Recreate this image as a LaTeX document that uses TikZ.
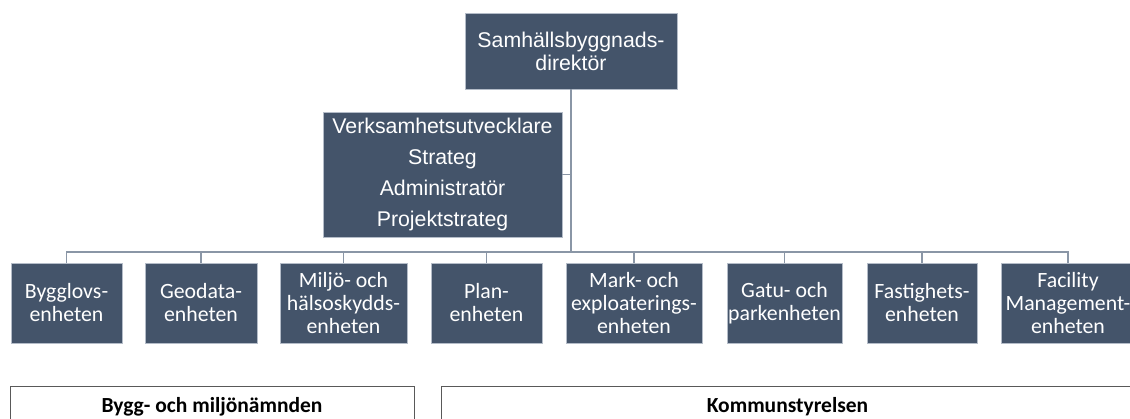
\documentclass[tikz,border=0pt]{standalone}
\usepackage{fontspec}
\setmainfont{Liberation Sans}
\newfontfamily\calib{Carlito}
\definecolor{boxfill}{HTML}{44546A}
\definecolor{boxedge}{HTML}{B4BCC8}
\definecolor{connc}{HTML}{8A96A6}
\definecolor{frame}{HTML}{595959}
\begin{document}
\begin{tikzpicture}[x=1pt,y=-1pt,
  bluebox/.style={draw=boxedge, line width=0.8pt, fill=boxfill, text=white, align=center, inner sep=0pt, minimum height=#1},
  unitbox/.style={bluebox=80pt, font=\calib\fontsize{21.8}{23}\selectfont},
  conn/.style={draw=connc, line width=1.3pt},
  framebox/.style={draw=frame, line width=1pt},
  framelabel/.style={font=\calib\bfseries\fontsize{21.5}{24}\selectfont, anchor=base, inner sep=0pt}]
\useasboundingbox (0,0) rectangle (1130,419);
\fill[white] (0,0) rectangle (1130,419);

\node[bluebox=76pt, minimum width=212pt, font=\fontsize{21.3}{23}\selectfont] (top) at (571,51) {Samhällsbyggnads-\\direktör};
\node[bluebox=125pt, minimum width=239pt, font=\fontsize{21.3}{31}\selectfont] (mid) at (442.5,174.5) {Verksamhetsutvecklare\\Strateg\\Administratör\\Projektstrateg};

\node[unitbox, minimum width=111pt] (u1) at (66.5,303) {Bygglovs-\\enheten};
\node[unitbox, minimum width=112pt] (u2) at (201,303) {Geodata-\\enheten};
\node[unitbox, minimum width=127pt] (u3) at (343.5,303) {Miljö- och\\hälsoskydds-\\enheten};
\node[unitbox, minimum width=111pt] (u4) at (486.5,303) {Plan-\\enheten};
\node[unitbox, minimum width=136pt] (u5) at (634,303) {Mark- och\\exploaterings-\\enheten};
\node[unitbox, minimum width=115pt] (u6) at (784.5,303) {Gatu- och\\parkenheten};
\node[unitbox, minimum width=110pt] (u7) at (922,303) {Fastighets-\\enheten};
\node[unitbox, minimum width=134pt] (u8) at (1068,303) {Facility\\Management-\\enheten};

\coordinate (hub) at (571,252);
\draw[conn] (top.south) -- (hub);
\draw[conn] (mid.east) -- (mid.east -| hub);
\foreach \u in {u1,u2,u3,u4,u5,u6,u7,u8} {
  \draw[conn] (hub) -| (\u.north);
}

\draw[framebox] (10,430) -- (10,387) -- (414,387) -- (414,430);
\draw[framebox] (441,430) -- (441,387) -- (1140,387);
\node[framelabel] (lb) at (212,413) {Bygg- och miljönämnden};
\node[framelabel] (rb) at (787.5,413) {Kommunstyrelsen};
\end{tikzpicture}
\end{document}
